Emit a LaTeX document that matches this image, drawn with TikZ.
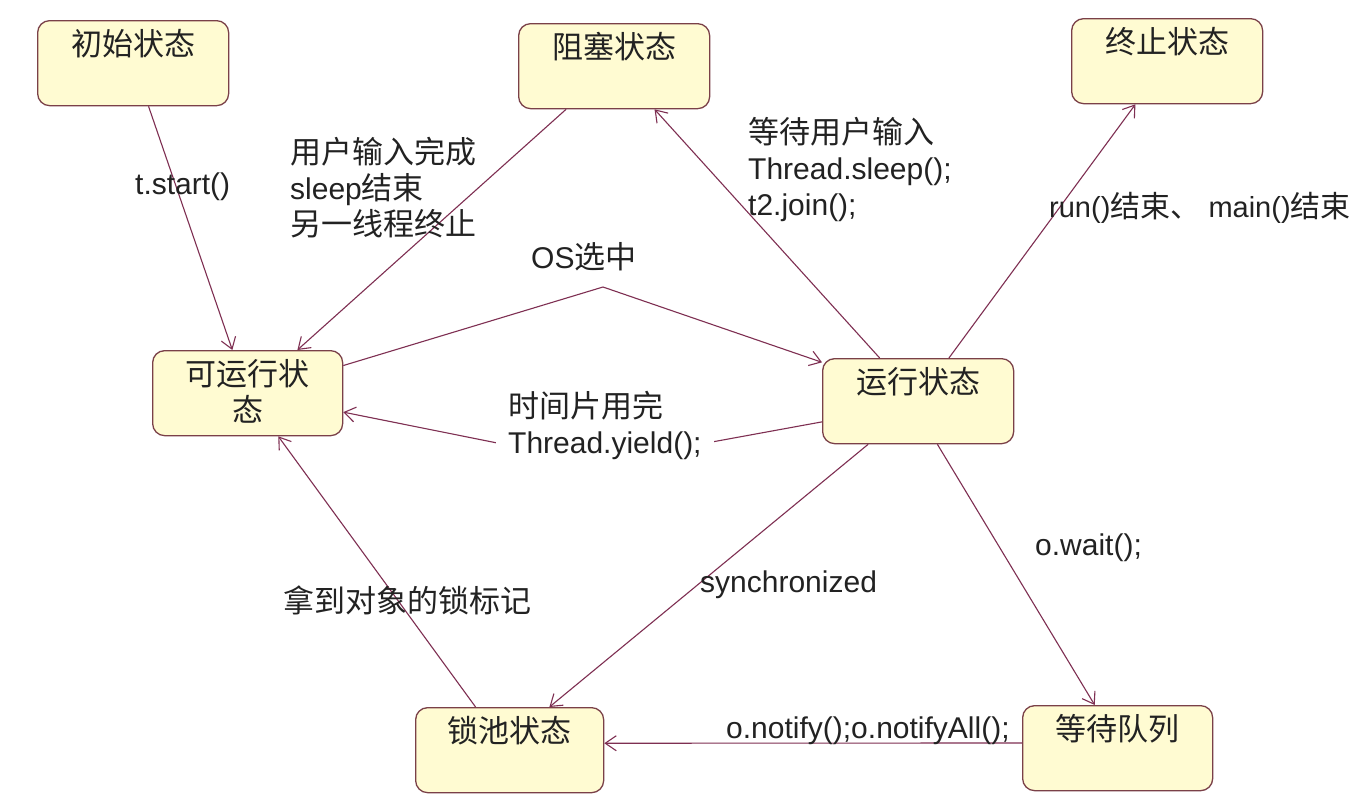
\documentclass[tikz,border=0pt]{standalone}
\usepackage{fontspec}
\setmainfont{Liberation Sans}
\newfontfamily\cjk{Noto Sans CJK SC}
\usetikzlibrary{arrows.meta,calc}
\definecolor{boxc}{HTML}{7A4048}
\definecolor{boxf}{HTML}{FFFBD2}
\definecolor{arrc}{HTML}{7E2F52}
\definecolor{textc}{HTML}{222222}
\newcommand{\zh}[1]{{\cjk\fontsize{31pt}{36pt}\selectfont #1}}
\newcommand{\zhs}[1]{{\cjk\fontsize{30pt}{36pt}\selectfont #1}}
\tikzset{
  statebox/.style={draw=boxc, fill=boxf, rounded corners=12pt, line width=1.3pt,
    minimum width=191pt, text height=26pt, text depth=41pt, inner ysep=9pt,
    inner xsep=4pt, align=center, anchor=north west, text=textc,
    font=\cjk\fontsize{31pt}{36pt}\selectfont},
  lbl/.style={font=\fontsize{30pt}{36pt}\selectfont, text=textc, inner sep=0pt,
    anchor=west, align=left},
  arr/.style={draw=arrc, line width=1.1pt, -{Straight Barb[length=11pt,width=15pt,line width=1.1pt]}}
}
\begin{document}
\begin{tikzpicture}[x=1pt,y=-1pt]
\fill[white] (0,0) rectangle (1354,798);
\useasboundingbox (0,0) rectangle (1354,798);

% states
\node[statebox] (init) at (37,20) {初始状态};
\node[statebox] (blocked) at (518,23) {阻塞状态};
\node[statebox] (term) at (1071,18) {终止状态};
\node[statebox, minimum width=190pt, text height=62pt, text depth=5pt] (runnable) at (152,350) {可运行状\\态};
\node[statebox] (running) at (822,358) {运行状态};
\node[statebox, minimum width=188pt] (lock) at (415,707) {锁池状态};
\node[statebox, minimum width=190pt] (wait) at (1022,705) {等待队列};

% t.start()
\draw[arr] ($(init.south west)!0.58!(init.south east)$) -- ($(runnable.north west)!0.42!(runnable.north east)$);
\node[lbl] (l1) at (135,187) {t.start()};

% blocked -> runnable
\draw[arr] ($(blocked.south west)!0.25!(blocked.south east)$) -- ($(runnable.north west)!0.76!(runnable.north east)$);
\node[lbl] (l2) at (290,188) {\zh{用户输入完成}\\sleep\zh{结束}\\\zh{另一线程终止}};

% runnable -> running (OS选中)
\coordinate (bend) at (603,287);
\draw[arr] ($(runnable.north east)!0.18!(runnable.south east)$) -- (bend) -- ($(running.north west)!0.05!(running.south west)$);
\node[lbl] (l3) at (531,257) {OS\zh{选中}};

% running -> blocked
\draw[arr] ($(running.north west)!0.30!(running.north east)$) -- ($(blocked.south west)!0.71!(blocked.south east)$);
\node[lbl] (l4) at (748,170) {\zh{等待用户输入}\\Thread.sleep();\\t2.join();};

% running -> terminated
\draw[arr] ($(running.north west)!0.66!(running.north east)$) -- ($(term.south west)!0.335!(term.south east)$);
\node[lbl, font=\fontsize{29pt}{34pt}\selectfont] (l5) at (1049,208) {run()\zhs{结束、} main()\zhs{结束}};

% running -> runnable (yield)
\coordinate (ybend) at (597,463);
\draw[arr] ($(running.north west)!0.74!(running.south west)$) -- (ybend) -- ($(runnable.north east)!0.72!(runnable.south east)$);
\node[lbl, fill=white, inner xsep=12pt, inner ysep=16pt] (l6) at (496,425) {\zh{时间片用完}\\Thread.yield();};

% running -> lock pool
\draw[arr] ($(running.south west)!0.24!(running.south east)$) -- ($(lock.north west)!0.71!(lock.north east)$);
\node[lbl] (l7) at (700,585) {synchronized};

% lock pool -> runnable
\draw[arr] ($(lock.north west)!0.32!(lock.north east)$) -- ($(runnable.south west)!0.66!(runnable.south east)$);
\node[lbl] (l8) at (283,600) {\zh{拿到对象的锁标记}};

% running -> waiting
\draw[arr] ($(running.south west)!0.60!(running.south east)$) -- ($(wait.north west)!0.38!(wait.north east)$);
\node[lbl] (l9) at (1035,548) {o.wait();};

% waiting -> lock pool
\draw[arr] ($(wait.north west)!0.44!(wait.south west)$) -- ($(lock.north east)!0.42!(lock.south east)$);
\node[lbl] (l10) at (726,731) {o.notify();o.notifyAll();};
\end{tikzpicture}
\end{document}
